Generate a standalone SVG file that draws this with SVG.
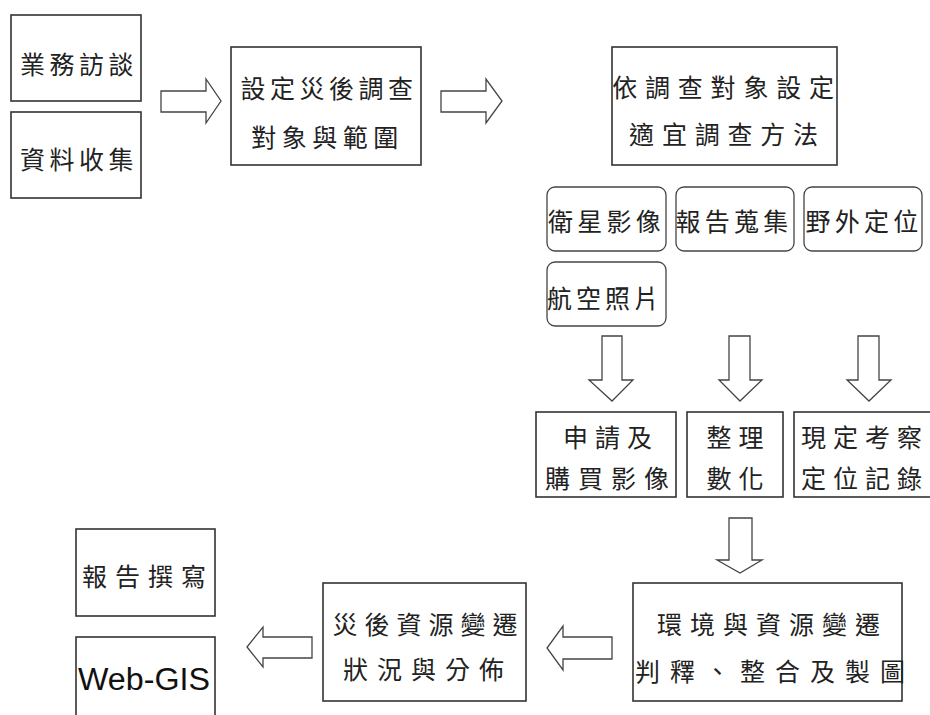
<svg xmlns="http://www.w3.org/2000/svg" width="930" height="715" viewBox="0 0 930 715">
  <style>
    .box { fill: #fff; stroke: #333; stroke-width: 1.6; }
    .rbox { fill: #fff; stroke: #444; stroke-width: 1.3; }
    .arrow { fill: #fff; stroke: #444; stroke-width: 1.3; stroke-linejoin: miter; }
    .t { font-family: "Noto Sans CJK TC", "Noto Sans CJK SC", sans-serif; font-size: 25px; fill: #222; text-anchor: middle; dominant-baseline: central; }
    .ts { text-anchor: start; }
    .en { font-family: "Liberation Sans", Arial, sans-serif; font-size: 31px; fill: #111; text-anchor: middle; }
  </style>

  <!-- connectors: hollow block arrows -->
  <g id="connectors">
    <polygon class="arrow" points="161,91 206,91 206,79 221,101 206,123 206,112 161,112"/>
    <polygon class="arrow" points="441,91 486,91 486,79 502,101 486,123 486,112 441,112"/>
    <polygon class="arrow" points="602,336 622,336 622,380 633,380 612,401 589,380 602,380"/>
    <polygon class="arrow" points="729,336 750,336 750,380 762,380 740,401 719,380 729,380"/>
    <polygon class="arrow" points="858,336 879,336 879,380 891,380 869,401 847,380 858,380"/>
    <polygon class="arrow" points="729,518 752,518 752,560 762,560 740,573 717,560 729,560"/>
    <polygon class="arrow" points="612,637 563,637 563,626 547,648 563,670 563,659 612,659"/>
    <polygon class="arrow" points="312,637 263,637 263,627 247,647 263,667 263,658 312,658"/>
  </g>

  <g id="interview">
    <rect class="box" x="11" y="15" width="130" height="86"/>
    <text class="t" x="79" y="63" style="letter-spacing:4.5px">業務訪談</text>
  </g>
  <g id="collection">
    <rect class="box" x="11" y="112" width="130" height="86"/>
    <text class="t" x="79" y="158" style="letter-spacing:4.5px">資料收集</text>
  </g>

  <g id="scope">
    <rect class="box" x="231" y="47" width="190" height="118"/>
    <text class="t" x="329" y="87" style="letter-spacing:4.5px">設定災後調查</text>
    <text class="t" x="327.5" y="136" style="letter-spacing:5.5px">對象與範圍</text>
  </g>

  <g id="method">
    <rect class="box" x="612" y="47" width="225" height="118"/>
    <text class="t" x="727" y="86" style="letter-spacing:7.8px">依調查對象設定</text>
    <text class="t" x="727.5" y="133" style="letter-spacing:7.8px">適宜調查方法</text>
  </g>

  <g id="satellite">
    <rect class="rbox" x="547" y="187" width="119" height="64" rx="8"/>
    <text class="t" x="606.5" y="220" style="letter-spacing:4.3px">衛星影像</text>
  </g>
  <g id="reports">
    <rect class="rbox" x="676" y="187" width="118" height="64" rx="8"/>
    <text class="t" x="734" y="220" style="letter-spacing:4.3px">報告蒐集</text>
  </g>
  <g id="field">
    <rect class="rbox" x="804" y="187" width="118" height="64" rx="8"/>
    <text class="t" x="864" y="220" style="letter-spacing:4.3px">野外定位</text>
  </g>
  <g id="aerial">
    <rect class="rbox" x="547" y="262" width="119" height="64" rx="8"/>
    <text class="t" x="605" y="297" style="letter-spacing:4px">航空照片</text>
  </g>

  <g id="purchase">
    <rect class="box" x="536" y="412" width="140" height="85"/>
    <text class="t" x="611" y="436" style="letter-spacing:7px">申請及</text>
    <text class="t" x="611" y="477" style="letter-spacing:8px">購買影像</text>
  </g>
  <g id="digitize">
    <rect class="box" x="687" y="412" width="96" height="85"/>
    <text class="t" x="738.5" y="436" style="letter-spacing:7px">整理</text>
    <text class="t" x="738.5" y="477" style="letter-spacing:7px">數化</text>
  </g>
  <g id="survey">
    <rect class="box" x="794" y="412" width="140" height="85"/>
    <text class="t ts" x="801" y="436" style="letter-spacing:7px">現定考察</text>
    <text class="t ts" x="801" y="477" style="letter-spacing:7px">定位記錄</text>
  </g>

  <g id="interpret">
    <rect class="box" x="633" y="583" width="269" height="118"/>
    <text class="t" x="772.5" y="623" style="letter-spacing:8px">環境與資源變遷</text>
    <text class="t" x="775" y="670" style="letter-spacing:10px">判釋、整合及製圖</text>
  </g>

  <g id="distribution">
    <rect class="box" x="323" y="583" width="203" height="118"/>
    <text class="t" x="428.5" y="623" style="letter-spacing:7px">災後資源變遷</text>
    <text class="t" x="428" y="668" style="letter-spacing:9px">狀況與分佈</text>
  </g>

  <g id="report">
    <rect class="box" x="76" y="529" width="139" height="87"/>
    <text class="t" x="148" y="575" style="letter-spacing:8px">報告撰寫</text>
  </g>
  <g id="webgis">
    <rect class="box" x="76" y="637" width="139" height="90"/>
    <text class="en" x="144" y="690" textLength="132" lengthAdjust="spacingAndGlyphs">Web-GIS</text>
  </g>
</svg>
